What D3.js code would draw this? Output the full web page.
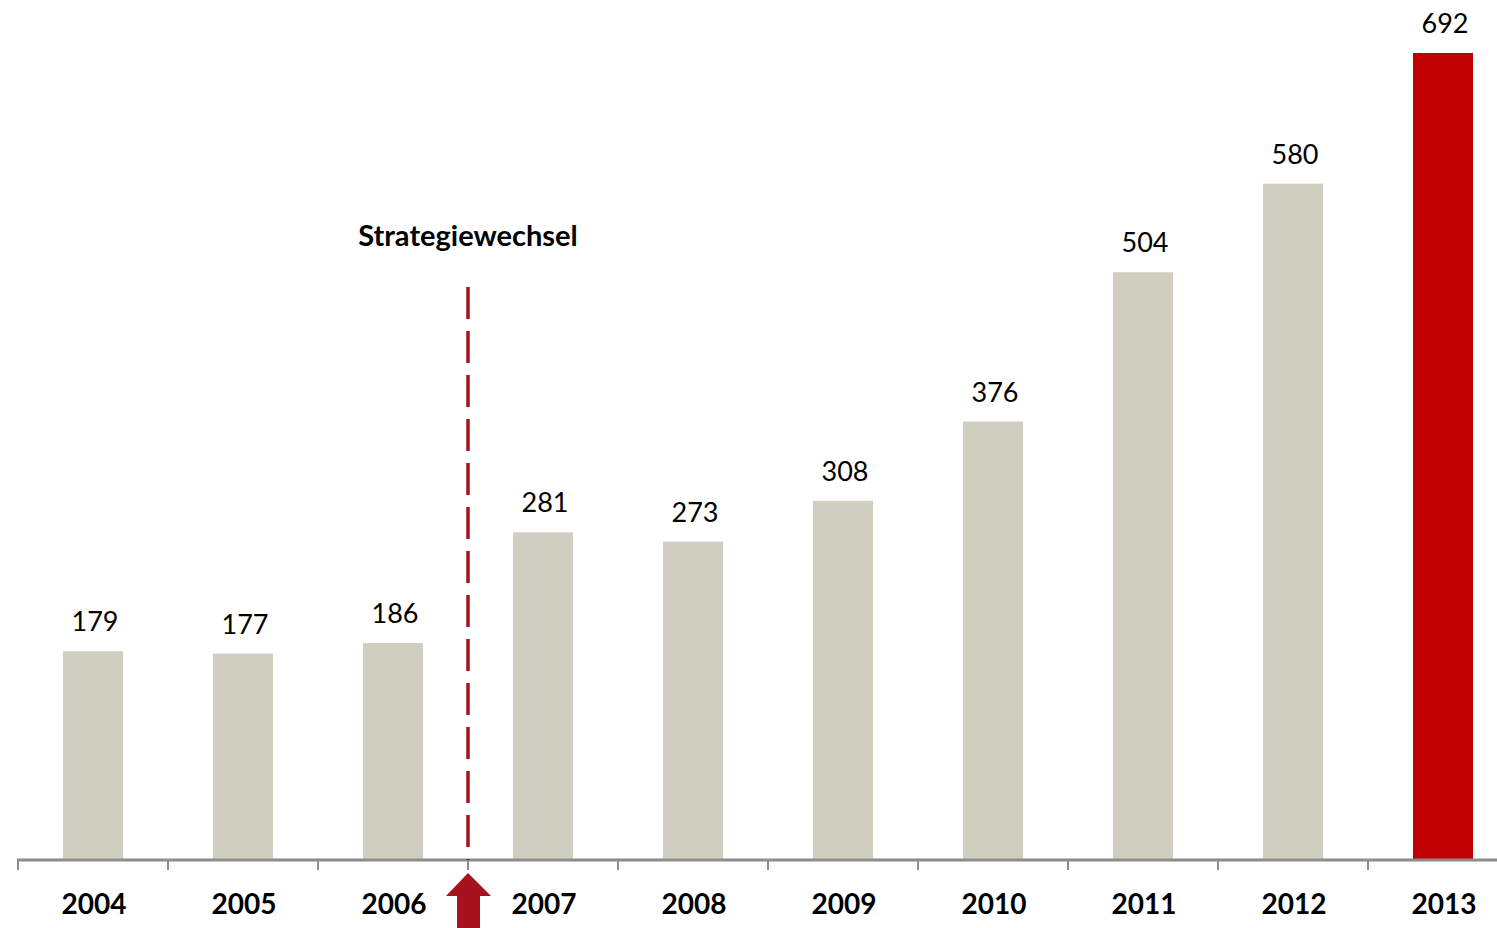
<!DOCTYPE html>
<html>
<head>
<meta charset="utf-8">
<script src="https://cdn.jsdelivr.net/npm/d3@7"></script>
<style>
  body { margin: 0; background: #fff; }
  text { font-family: Lato, "Open Sans", sans-serif; }
</style>
</head>
<body>
<div id="chart"></div>
<script>
const width = 1497;
const height = 928;

// data
const years = ["2004", "2005", "2006", "2007", "2008", "2009", "2010", "2011", "2012", "2013"];
const values = [179, 177, 186, 281, 273, 308, 376, 504, 580, 692];
const highlightYear = "2013";
const markerLabel = "Strategiewechsel";

const baseY = 860;

const svg = d3.select("#chart")
    .append("svg")
    .attr("width", width)
    .attr("height", height)
    .attr("viewBox", [0, 0, width, height]);

const x = d3.scaleBand()
    .domain(years)
    .range([18, 1518])
    .paddingInner(0.6)
    .paddingOuter(0.3);

const step = x.step();

const y = d3.scaleLinear()
    .domain([0, 692])
    .range([baseY, 53]);

const data = years.map((yr, i) => ({year: yr, value: values[i]}));

// bars
svg.selectAll(".bar")
    .data(data)
    .enter()
    .append("rect")
    .attr("class", "bar")
    .attr("x", d => x(d.year))
    .attr("y", d => y(d.value))
    .attr("width", x.bandwidth())
    .attr("height", d => baseY - y(d.value))
    .attr("fill", d => d.year === highlightYear ? "#C00000" : "#D0CEC0");

// value labels
svg.selectAll(".val")
    .data(data)
    .enter()
    .append("text")
    .attr("class", "val")
    .attr("x", d => x(d.year) + x.bandwidth() / 2 + 2)
    .attr("y", d => y(d.value) - 20)
    .attr("text-anchor", "middle")
    .attr("font-size", "27px")
    .attr("fill", "#000")
    .text(d => d.value);

// axis line + ticks
svg.append("line")
    .attr("x1", 17)
    .attr("x2", width)
    .attr("y1", baseY)
    .attr("y2", baseY)
    .attr("stroke", "#8C8C8C")
    .attr("stroke-width", 3);

const tickXs = years.map(yr => x(yr) - step * 0.3);
svg.selectAll(".tick")
    .data(tickXs)
    .enter()
    .append("line")
    .attr("class", "tick")
    .attr("x1", d => d)
    .attr("x2", d => d)
    .attr("y1", baseY)
    .attr("y2", baseY + 10)
    .attr("stroke", "#8C8C8C")
    .attr("stroke-width", 2);

// year labels
svg.selectAll(".yr")
    .data(years)
    .enter()
    .append("text")
    .attr("class", "yr")
    .attr("x", d => x(d) + x.bandwidth() / 2 + 1)
    .attr("y", 914)
    .attr("text-anchor", "middle")
    .attr("font-size", "28px")
    .attr("font-weight", "bold")
    .attr("fill", "#000")
    .text(d => d);

// strategy change marker between 2006 and 2007
const mx = x("2007") - step * 0.3;
svg.append("line")
    .attr("x1", mx)
    .attr("x2", mx)
    .attr("y1", 287)
    .attr("y2", baseY)
    .attr("stroke", "#A8121F")
    .attr("stroke-width", 3.5)
    .attr("stroke-dasharray", "32,12");

svg.append("text")
    .attr("x", mx)
    .attr("y", 246)
    .attr("text-anchor", "middle")
    .attr("font-size", "29px")
    .attr("font-weight", "bold")
    .attr("fill", "#000")
    .text(markerLabel);

// arrow
const arrow = [
    [mx, 873],
    [mx + 23, 896],
    [mx + 12, 896],
    [mx + 12, 928],
    [mx - 11, 928],
    [mx - 11, 896],
    [mx - 22, 896]
];
svg.append("path")
    .attr("d", d3.line()(arrow) + "Z")
    .attr("fill", "#A8121F");
</script>
</body>
</html>
